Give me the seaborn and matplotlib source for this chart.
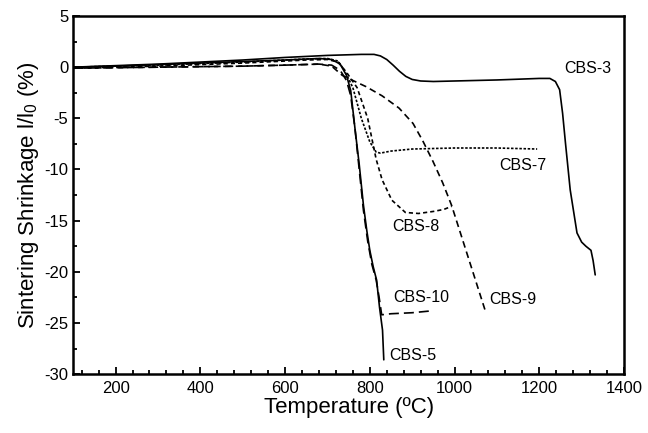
import matplotlib
matplotlib.use("Agg")
import matplotlib.pyplot as plt
from matplotlib.ticker import MultipleLocator
import seaborn as sns
import pandas as pd

# ---- data ----
t3 = [100, 200, 300, 400, 500, 600, 700, 780, 810, 825, 840, 855, 870, 885, 900, 920, 950, 1000, 1100, 1200,
      1225, 1238, 1248, 1255, 1262, 1273, 1289, 1300, 1310, 1322, 1327, 1332]
s3 = [0.0, 0.15, 0.3, 0.5, 0.7, 0.95, 1.15, 1.25, 1.25, 1.1, 0.75, 0.2, -0.4, -0.9, -1.2, -1.35, -1.4, -1.35, -1.25, -1.1,
      -1.1, -1.4, -2.2, -4.5, -7.5, -12.0, -16.2, -17.1, -17.5, -17.9, -18.9, -20.3]

t5 = [100, 200, 300, 400, 500, 600, 680, 710, 730, 745, 755, 765, 775, 785, 793, 800, 808, 816, 823, 830, 833]
s5 = [0.0, 0.1, 0.25, 0.4, 0.55, 0.7, 0.85, 0.75, 0.3, -0.8, -2.3, -6.0, -9.5, -13.5, -16.0, -17.9, -19.5,
      -20.8, -23.5, -25.7, -28.6]

t7 = [100, 300, 500, 650, 700, 725, 740, 760, 780, 800, 815, 825, 850, 900, 1000, 1100, 1195]
s7 = [0.0, 0.2, 0.5, 0.8, 0.85, 0.6, -0.3, -2.0, -5.0, -7.3, -8.3, -8.4, -8.2, -8.0, -7.9, -7.9, -8.0]

t8 = [100, 300, 500, 650, 700, 725, 745, 770, 795, 815, 829, 852, 884, 915, 950, 975, 993]
s8 = [-0.1, 0.1, 0.4, 0.7, 0.75, 0.5, -0.5, -2.0, -5.0, -9.0, -11.0, -13.0, -14.2, -14.3, -14.1, -13.9, -13.6]

t9 = [100, 300, 500, 600, 680, 710, 735, 760, 791, 829, 869, 902, 925, 949, 972, 993, 1030, 1074]
s9 = [-0.1, 0.0, 0.1, 0.2, 0.3, 0.1, -0.8, -1.3, -1.9, -2.8, -4.0, -5.5, -7.2, -9.2, -11.3, -13.5, -18.3, -24.0]

t10 = [100, 200, 300, 400, 500, 600, 680, 710, 730, 745, 755, 765, 775, 785, 795, 805, 815, 822, 828, 850, 900, 950]
s10 = [-0.1, -0.05, 0.0, 0.05, 0.1, 0.2, 0.3, 0.2, -0.3, -1.3, -2.8, -6.0, -10.0, -14.0, -17.0, -19.3,
       -20.8, -22.5, -24.2, -24.1, -24.0, -23.8]

series_names = ["CBS-3", "CBS-5", "CBS-7", "CBS-8", "CBS-9", "CBS-10"]
label_x = [1315, 902, 1162, 909, 1138, 921]
label_y = [-0.1, -28.2, -9.6, -15.6, -22.7, -22.5]

# ---- plotting ----
sns.set_style("ticks")
plt.rcParams["font.family"] = ["Liberation Sans", "DejaVu Sans"]
plt.rcParams["mathtext.fontset"] = "custom"
plt.rcParams["mathtext.rm"] = "Liberation Sans"
plt.rcParams["axes.unicode_minus"] = False

fig = plt.figure(figsize=(6.48, 4.33), dpi=100)
ax = fig.add_axes([0.113, 0.136, 0.85, 0.827])

data = {
    "CBS-3": (t3, s3, "-"),
    "CBS-5": (t5, s5, "-"),
    "CBS-7": (t7, s7, (0, (1.5, 1.0))),
    "CBS-8": (t8, s8, (0, (2.5, 1.8))),
    "CBS-9": (t9, s9, (0, (4.0, 2.5))),
    "CBS-10": (t10, s10, (0, (6.0, 3.0))),
}
for name in series_names:
    t, s, ls = data[name]
    df = pd.DataFrame({"T": t, "S": s})
    sns.lineplot(data=df, x="T", y="S", ax=ax, color="black", linewidth=1.2,
                 linestyle=ls, sort=False)

for name, lx, ly in zip(series_names, label_x, label_y):
    ax.text(lx, ly, name, fontsize=11.5, ha="center", va="center", color="black")

ax.set_xlim(100, 1400)
ax.set_ylim(-30, 5)
ax.xaxis.set_major_locator(MultipleLocator(200))
ax.xaxis.set_minor_locator(MultipleLocator(40))
ax.yaxis.set_major_locator(MultipleLocator(5))
ax.yaxis.set_minor_locator(MultipleLocator(2.5))
ax.tick_params(which="both", direction="in", width=1.3, labelsize=12,
               color="black", labelcolor="black")
ax.tick_params(which="major", length=5)
ax.tick_params(which="minor", length=3)
ax.tick_params(axis="x", which="major", pad=5)
for sp in ax.spines.values():
    sp.set_linewidth(1.8)
    sp.set_color("black")
    sp.set_visible(True)

ax.set_xlabel("Temperature (ºC)", fontsize=16, labelpad=1, color="black")
ax.set_ylabel(r"Sintering Shrinkage l/l$_\mathregular{0}$ (%)", fontsize=16, labelpad=2, color="black")

fig.savefig("out.png", dpi=100)
